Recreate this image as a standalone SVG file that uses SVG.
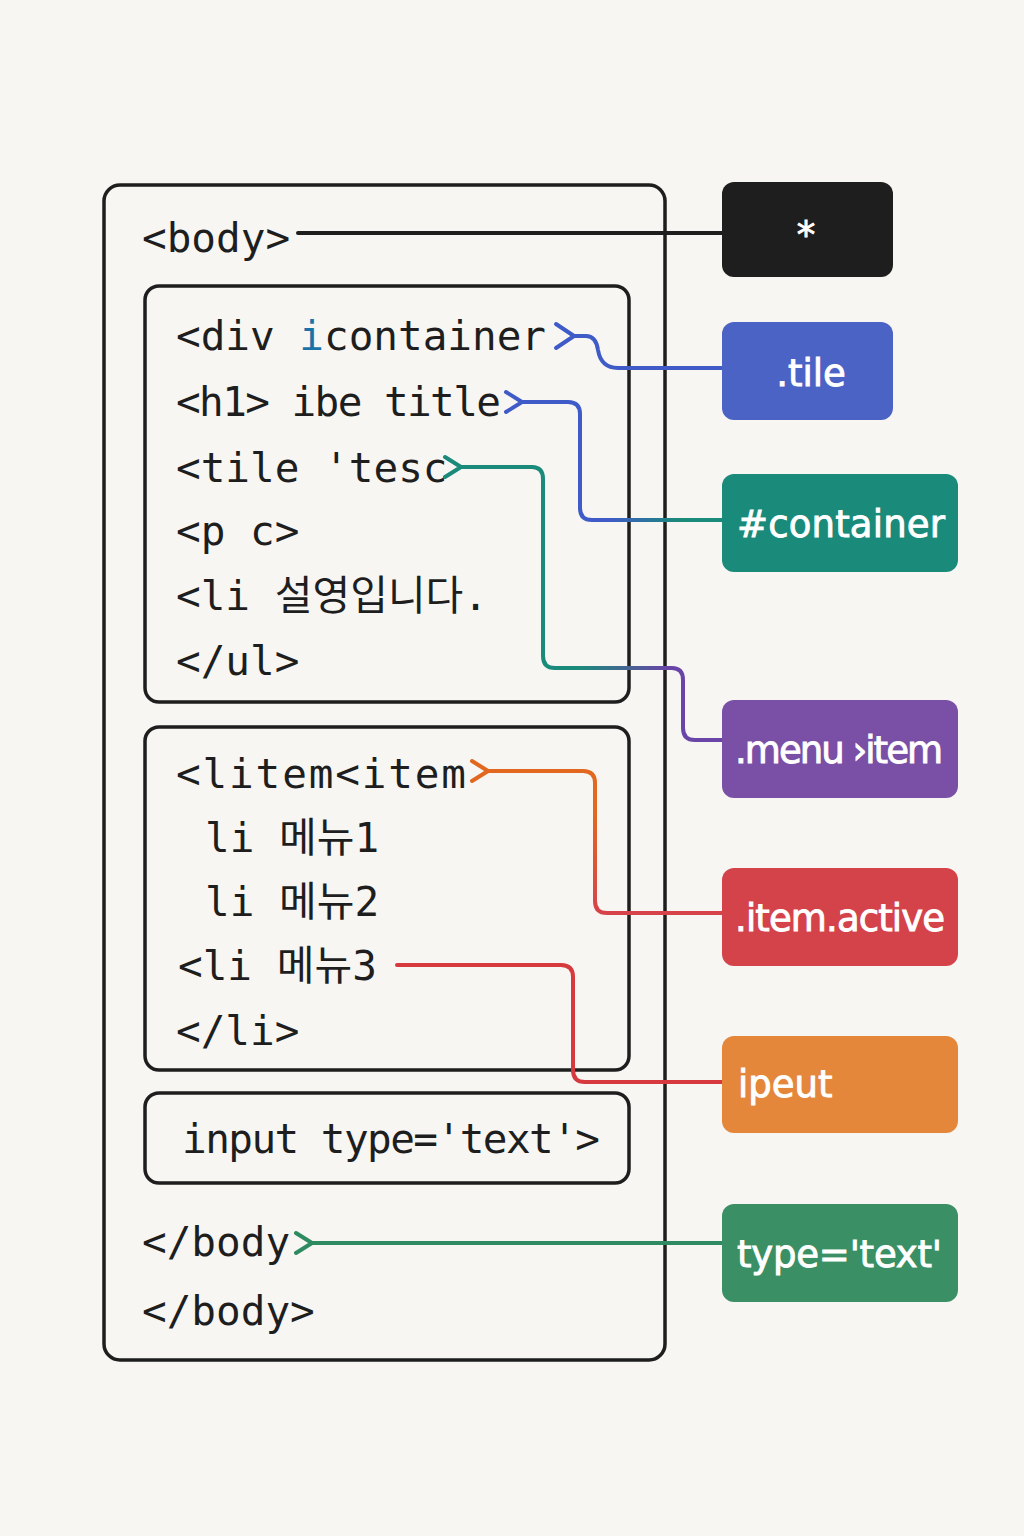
<svg xmlns="http://www.w3.org/2000/svg" width="1024" height="1536" viewBox="0 0 1024 1536">
<defs>
<style>
.code{font-family:"DejaVu Sans Mono","Liberation Mono","Noto Sans CJK KR",monospace;font-size:41px;fill:#1e1e1e}
.box{fill:none;stroke:#1e1e1e;stroke-width:3.5}
.lbl{font-family:"DejaVu Sans","Liberation Sans",sans-serif;font-size:37px;fill:#ffffff;stroke:#ffffff;stroke-width:0.9}
.wire{fill:none;stroke-width:4;stroke-linecap:round;stroke-linejoin:round}
</style>
<linearGradient id="gBT" gradientUnits="userSpaceOnUse" x1="580" y1="0" x2="722" y2="0">
<stop offset="0.2" stop-color="#3f5bc8"/><stop offset="0.7" stop-color="#1a8a7a"/></linearGradient>
<linearGradient id="gTP" gradientUnits="userSpaceOnUse" x1="543" y1="0" x2="722" y2="0">
<stop offset="0.2" stop-color="#1a8a7a"/><stop offset="0.7" stop-color="#6a45a8"/></linearGradient>
<linearGradient id="gOR" gradientUnits="userSpaceOnUse" x1="0" y1="771" x2="0" y2="913">
<stop offset="0.3" stop-color="#e2671f"/><stop offset="1" stop-color="#d6434a"/></linearGradient>
</defs>
<rect width="1024" height="1536" fill="#f7f6f3"/>

<g id="body-box">
<rect class="box" x="104" y="185" width="561" height="1175" rx="16"/>
<text class="code" x="142" y="252">&lt;body&gt;</text>
<text class="code" x="142" y="1256">&lt;/body</text>
<text class="code" x="142" y="1325">&lt;/body&gt;</text>
</g>

<g id="div-box">
<rect class="box" x="145" y="286" width="484" height="416" rx="14"/>
<text class="code" x="176" y="350" textLength="370">&lt;div <tspan fill="#1a73a8">i</tspan>container</text>
<text class="code" x="176" y="416" textLength="325">&lt;h1&gt; ibe title</text>
<text class="code" x="176" y="482">&lt;tile 'tesc</text>
<text class="code" x="176" y="545">&lt;p c&gt;</text>
<text class="code" x="176" y="610">&lt;li 설영입니다.</text>
<text class="code" x="176" y="675">&lt;/ul&gt;</text>
</g>

<g id="li-box">
<rect class="box" x="145" y="727" width="484" height="343" rx="14"/>
<text class="code" x="176" y="788" textLength="290">&lt;litem&lt;item</text>
<text class="code" x="205" y="852">li 메뉴1</text>
<text class="code" x="205" y="916">li 메뉴2</text>
<text class="code" x="178" y="980">&lt;li 메뉴3</text>
<text class="code" x="176" y="1045">&lt;/li&gt;</text>
</g>

<g id="input-box">
<rect class="box" x="145" y="1093" width="484" height="90" rx="14"/>
<text class="code" x="182" y="1153" textLength="418">input type='text'&gt;</text>
</g>

<g id="connectors">
<path class="wire" stroke="#1e1e1e" d="M298 233 H722"/>
<path class="wire" stroke="#3f5bc8" d="M556 324 L574 336 L556 348 M574 336 H586 Q596 336 598 350 Q601 368 618 368 H722"/>
<path class="wire" stroke="url(#gBT)" d="M506 392 L522 402 L506 412 M522 402 H568 Q580 402 580 414 V508 Q580 520 592 520 H722"/>
<path class="wire" stroke="url(#gTP)" d="M445 457 L461 467 L445 477 M461 467 H532 Q543 467 543 479 V656 Q543 668 555 668 H672 Q683 668 683 680 V728 Q683 740 695 740 H722"/>
<path class="wire" stroke="url(#gOR)" d="M472 761 L488 771 L472 781 M488 771 H583 Q595 771 595 783 V901 Q595 913 607 913 H722"/>
<path class="wire" stroke="#d63a3e" d="M397 965 H561 Q573 965 573 977 V1070 Q573 1082 585 1082 H722"/>
<path class="wire" stroke="#2e8a60" d="M296 1233 L312 1243 L296 1253 M312 1243 H722"/>
</g>

<g id="node-universal">
<rect x="722" y="182" width="171" height="95" rx="12" fill="#1e1e1e"/>
<text class="lbl" x="806" y="248" text-anchor="middle" font-size="46">*</text>
</g>
<g id="node-tile">
<rect x="722" y="322" width="171" height="98" rx="12" fill="#4a63c4"/>
<text class="lbl" x="811" y="386" text-anchor="middle" font-size="40">.tile</text>
</g>
<g id="node-container">
<rect x="722" y="474" width="236" height="98" rx="12" fill="#1a8a7a"/>
<text class="lbl" x="737" y="537" textLength="208">#container</text>
</g>
<g id="node-menu-item">
<rect x="722" y="700" width="236" height="98" rx="12" fill="#7a4fa6"/>
<text class="lbl" x="735" y="763" textLength="208">.menu ›item</text>
</g>
<g id="node-item-active">
<rect x="722" y="868" width="236" height="98" rx="12" fill="#d4434a"/>
<text class="lbl" x="735" y="931" textLength="210">.item.active</text>
</g>
<g id="node-input">
<rect x="722" y="1036" width="236" height="97" rx="12" fill="#e4873a"/>
<text class="lbl" x="738" y="1097">ipeut</text>
</g>
<g id="node-type-text">
<rect x="722" y="1204" width="236" height="98" rx="12" fill="#3a8f64"/>
<text class="lbl" x="737" y="1267" textLength="205">type='text'</text>
</g>
</svg>
